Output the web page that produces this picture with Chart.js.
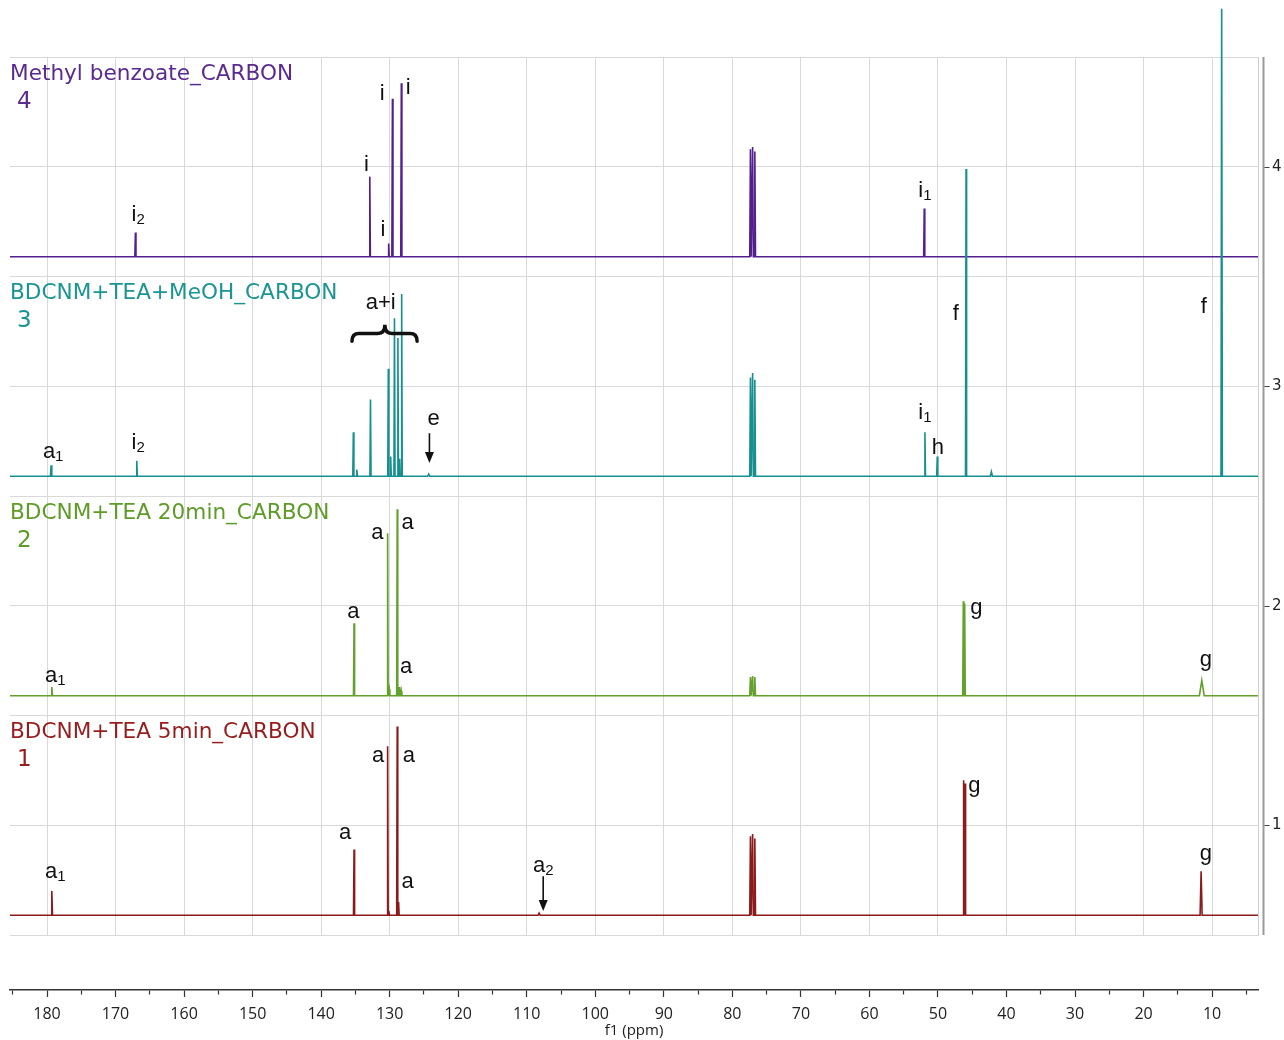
<!DOCTYPE html>
<html>
<head>
<meta charset="utf-8">
<title>13C NMR stack</title>
<script src="https://cdn.jsdelivr.net/npm/chart.js@4.4.1/dist/chart.umd.min.js"></script>
<style>
  html, body { margin: 0; padding: 0; background: #fff; }
  canvas { display: block; }
</style>
</head>
<body>
<canvas id="nmr" width="1284" height="1040"></canvas>
<script>
// f1 window (ppm)
const ppmMax = 185.4;
const ppmMin = 3.3;

// Stacked spectra, bottom to top
const spectrumNames = ['BDCNM+TEA 5min_CARBON', 'BDCNM+TEA 20min_CARBON', 'BDCNM+TEA+MeOH_CARBON', 'Methyl benzoate_CARBON'];
const spectrumNumbers = ['1', '2', '3', '4'];
const baselines = [0.59, 1.59, 2.59, 3.59];

// 1: BDCNM+TEA 5 min
const shifts1  = [179.3, 135.2, 130.3, 130.1, 128.9, 128.7, 108.2, 77.36, 77.04, 76.72, 46.25, 46.05, 11.6];
const heights1 = [0.11, 0.30, 0.77, 0.02, 0.86, 0.06, 0.01, 0.36, 0.37, 0.35, 0.615, 0.60, 0.20];
const widths1  = [0.10, 0.08, 0.08, 0.08, 0.08, 0.08, 0.15, 0.10, 0.10, 0.10, 0.08, 0.08, 0.15];

// 2: BDCNM+TEA 20 min
const shifts2  = [179.3, 135.2, 130.3, 130.05, 128.9, 128.6, 128.3, 77.36, 77.04, 76.72, 46.3, 46.1, 11.5];
const heights2 = [0.04, 0.33, 0.74, 0.03, 0.85, 0.04, 0.02, 0.085, 0.09, 0.085, 0.43, 0.42, 0.07];
const widths2  = [0.10, 0.08, 0.08, 0.08, 0.08, 0.08, 0.08, 0.10, 0.10, 0.10, 0.08, 0.08, 0.35];

// 3: BDCNM+TEA+MeOH
const shifts3  = [179.4, 166.9, 135.3, 134.8, 132.8, 130.2, 129.85, 129.3, 128.8, 128.55, 128.25, 124.3, 77.36, 77.04, 76.72, 51.9, 50.1, 45.9, 42.2, 8.6];
const heights3 = [0.05, 0.07, 0.20, 0.03, 0.35, 0.49, 0.09, 0.72, 0.63, 0.08, 0.83, 0.01, 0.45, 0.47, 0.44, 0.20, 0.09, 1.40, 0.02, 2.13];
const widths3  = [0.10, 0.08, 0.08, 0.10, 0.08, 0.08, 0.08, 0.08, 0.08, 0.08, 0.08, 0.15, 0.10, 0.10, 0.10, 0.08, 0.08, 0.08, 0.15, 0.10];

// 4: methyl benzoate
const shifts4  = [167.1, 132.9, 130.15, 129.6, 128.3, 77.36, 77.04, 76.72, 52.0];
const heights4 = [0.11, 0.365, 0.06, 0.72, 0.79, 0.49, 0.50, 0.48, 0.22];
const widths4  = [0.08, 0.08, 0.08, 0.08, 0.08, 0.10, 0.10, 0.10, 0.08];

const lineColors = ['#8c1a1a', '#63a02c', '#16908f', '#531f8e'];
const textColors = ['#961d1d', '#5e9c27', '#1b9494', '#5b2a90'];

// Peak assignments: [letter, subscript, ppm, intensity]
const peakLabels = [
  // 4
  ['i', '2', 166.7, 3.78], ['i', '', 133.4, 4.01], ['i', '', 131.0, 3.71],
  ['i', '', 131.1, 4.33], ['i', '', 127.3, 4.36], ['i', '1', 51.9, 3.89],
  // 3
  ['a', '1', 179.1, 2.70], ['i', '2', 166.7, 2.74], ['a+i', '', 131.3, 3.38],
  ['e', '', 123.6, 2.85], ['i', '1', 51.9, 2.88], ['h', '', 50.0, 2.72],
  ['f', '', 47.4, 3.33], ['f', '', 11.2, 3.36],
  // 2
  ['a', '1', 178.8, 1.68], ['a', '', 135.3, 1.973], ['a', '', 131.8, 2.33],
  ['a', '', 127.4, 2.377], ['a', '', 127.6, 1.723], ['g', '', 44.4, 1.99], ['g', '', 10.9, 1.755],
  // 1
  ['a', '1', 178.8, 0.786], ['a', '', 136.5, 0.964], ['a', '', 131.7, 1.318],
  ['a', '', 127.2, 1.318], ['a', '', 127.4, 0.741], ['a', '2', 107.6, 0.814],
  ['g', '', 44.7, 1.177], ['g', '', 10.9, 0.868]
];

// Arrows: [ppm, from intensity, to intensity]
const arrows = [[124.2, 2.786, 2.65], [107.6, 0.768, 0.609]];

// Brace over the aromatic group of spectrum 3: [left ppm, tip ppm, right ppm, end, mid, tip]
const brace = [135.5, 130.7, 126.0, 3.205, 3.24, 3.28];

function buildTrace(shifts, heights, widths, base) {
  const order = shifts.map((s, i) => i).sort((a, b) => shifts[b] - shifts[a]);
  const pts = [{ x: ppmMax, y: base }];
  order.forEach(i => {
    pts.push({ x: shifts[i] + widths[i], y: base });
    pts.push({ x: shifts[i], y: base + heights[i] });
    pts.push({ x: shifts[i] - widths[i], y: base });
  });
  pts.push({ x: ppmMin, y: base });
  return pts;
}

const traces = [
  buildTrace(shifts1, heights1, widths1, baselines[0]),
  buildTrace(shifts2, heights2, widths2, baselines[1]),
  buildTrace(shifts3, heights3, widths3, baselines[2]),
  buildTrace(shifts4, heights4, widths4, baselines[3])
];

const decor = {
  id: 'decor',
  afterDatasetsDraw(chart) {
    const ctx = chart.ctx;
    const xs = chart.scales.x, ys = chart.scales.y;
    const area = chart.chartArea;
    const px = v => xs.getPixelForValue(v);
    const py = v => ys.getPixelForValue(v);
    ctx.save();

    // offset intensity axis line with integer ticks
    const axX = area.right + 5.5;
    ctx.strokeStyle = '#9a9a9a';
    ctx.lineWidth = 2;
    ctx.beginPath();
    ctx.moveTo(axX, area.top);
    ctx.lineTo(axX, area.bottom);
    ctx.stroke();
    ctx.strokeStyle = '#444';
    ctx.lineWidth = 1;
    [1, 2, 3, 4].forEach(v => {
      const y = Math.round(py(v)) + 0.5;
      ctx.beginPath();
      ctx.moveTo(axX + 1, y);
      ctx.lineTo(axX + 6, y);
      ctx.stroke();
    });

    // spectrum titles and numbers
    ctx.textBaseline = 'middle';
    ctx.textAlign = 'left';
    [0.6, 1.6, 2.6, 3.6].forEach((b, i) => {
      const top = py(b + 0.9);
      ctx.fillStyle = textColors[i];
      ctx.font = '21.6px "DejaVu Sans"';
      ctx.fillText(spectrumNames[i], area.left, top + 17);
      ctx.font = '23px "DejaVu Sans"';
      ctx.fillText(spectrumNumbers[i], area.left + 7, top + 45);
    });

    // peak assignments
    ctx.fillStyle = '#111';
    peakLabels.forEach(([t, sub, ppm, val]) => {
      ctx.font = '22px "Liberation Sans"';
      const w1 = ctx.measureText(t).width;
      ctx.font = '15px "Liberation Sans"';
      const w2 = sub ? ctx.measureText(sub).width : 0;
      const x0 = px(ppm) - (w1 + w2) / 2;
      const y = py(val);
      ctx.textAlign = 'left';
      ctx.textBaseline = 'middle';
      ctx.font = '22px "Liberation Sans"';
      ctx.fillText(t, x0, y);
      if (sub) {
        ctx.font = '15px "Liberation Sans"';
        ctx.fillText(sub, x0 + w1, y + 5);
      }
    });

    // arrows
    ctx.strokeStyle = '#111';
    ctx.fillStyle = '#111';
    arrows.forEach(([ppm, v0, v1]) => {
      const x = px(ppm), y0 = py(v0), y1 = py(v1);
      ctx.lineWidth = 1.6;
      ctx.beginPath();
      ctx.moveTo(x, y0);
      ctx.lineTo(x, y1 - 9);
      ctx.stroke();
      ctx.beginPath();
      ctx.moveTo(x - 4.5, y1 - 11);
      ctx.lineTo(x + 4.5, y1 - 11);
      ctx.lineTo(x, y1);
      ctx.closePath();
      ctx.fill();
    });

    // curly brace
    const [bl, bt, br, vEnd, vMid, vTip] = brace;
    const xl = px(bl), xc = px(bt), xr = px(br);
    const ye = py(vEnd), ym = py(vMid), yt = py(vTip);
    ctx.lineWidth = 3.5;
    ctx.lineCap = 'round';
    ctx.beginPath();
    ctx.moveTo(xl, ye);
    ctx.quadraticCurveTo(xl, ym, xl + 7, ym);
    ctx.lineTo(xc - 7, ym);
    ctx.quadraticCurveTo(xc, ym, xc, yt);
    ctx.quadraticCurveTo(xc, ym, xc + 7, ym);
    ctx.lineTo(xr - 7, ym);
    ctx.quadraticCurveTo(xr, ym, xr, ye);
    ctx.stroke();

    ctx.restore();
  }
};

new Chart(document.getElementById('nmr'), {
  type: 'line',
  data: {
    datasets: traces.map((pts, i) => ({
      label: spectrumNames[i],
      data: pts,
      borderColor: lineColors[i],
      borderWidth: 1.6,
      pointRadius: 0,
      tension: 0,
      clip: false
    }))
  },
  options: {
    responsive: false,
    animation: false,
    devicePixelRatio: 1,
    layout: { padding: { left: 10, top: 57, right: 0, bottom: 0 } },
    plugins: { legend: { display: false }, tooltip: { enabled: false } },
    scales: {
      x: {
        type: 'linear', position: 'bottom', weight: 0,
        min: ppmMin, max: ppmMax, reverse: true,
        ticks: { display: false, stepSize: 10, includeBounds: false },
        grid: { color: '#d9d9d9', lineWidth: 1, drawTicks: false },
        border: { display: false },
        afterFit: s => { s.height = 55; }
      },
      xAxis: {
        type: 'linear', axis: 'x', position: 'bottom', weight: 1,
        min: ppmMin, max: ppmMax, reverse: true,
        ticks: {
          stepSize: 5, includeBounds: false, autoSkip: false, maxRotation: 0,
          padding: 8, color: '#222',
          font: { family: 'Open Sans', size: 16 },
          callback: v => (v % 10 === 0 ? String(v) : '')
        },
        grid: {
          drawOnChartArea: false, drawTicks: true, tickLength: 7,
          tickColor: '#333', tickWidth: 1.2,
          tickBorderDash: ctx => (ctx.tick && ctx.tick.value % 10 !== 0 ? [4, 20] : [])
        },
        border: { display: true, color: '#333', width: 1.5 },
        title: {
          display: true, text: 'f1 (ppm)', color: '#222',
          font: { family: 'Open Sans', size: 15 }, padding: 0
        },
        afterFit: s => { s.height = 50; }
      },
      y: {
        type: 'linear', position: 'right',
        min: 0.5, max: 4.5,
        ticks: {
          stepSize: 0.5, padding: 14, color: '#222',
          font: { family: 'DejaVu Sans', size: 15 },
          callback: v => (Number.isInteger(v) ? String(v) : '')
        },
        grid: { color: '#d9d9d9', lineWidth: 1, drawTicks: false },
        border: { display: true, color: '#cfcfcf', width: 1 },
        afterFit: s => { s.width = 26; }
      }
    }
  },
  plugins: [decor]
});
</script>
</body>
</html>
